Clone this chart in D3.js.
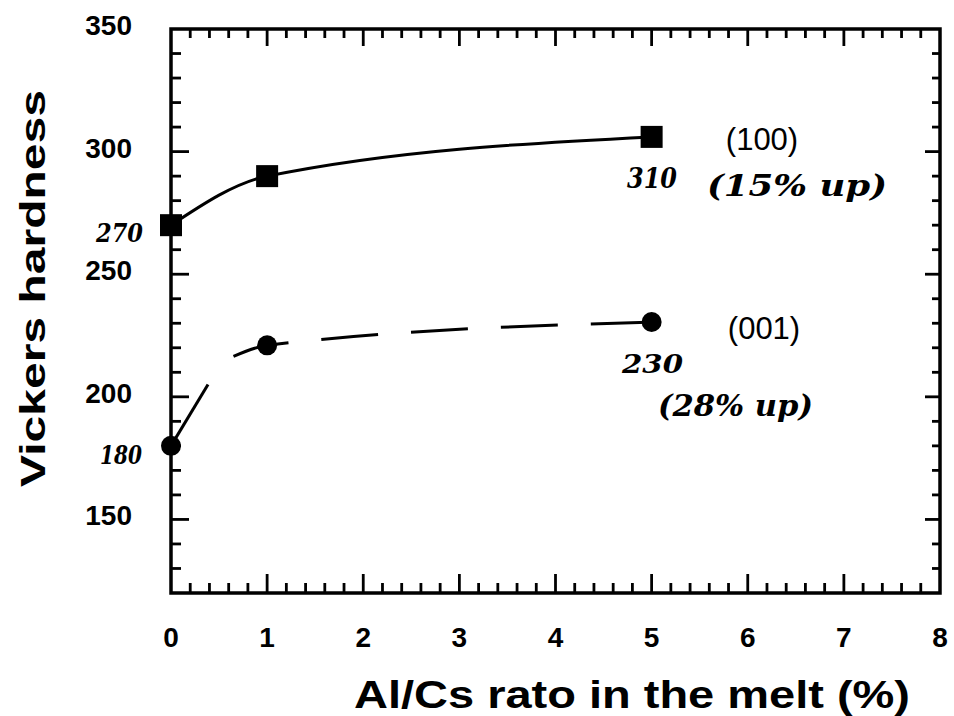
<!DOCTYPE html>
<html>
<head>
<meta charset="utf-8">
<script src="https://cdn.jsdelivr.net/npm/d3@7"></script>
<style>
  html, body { margin: 0; padding: 0; background: #fff; }
  svg { display: block; }
</style>
</head>
<body>
<svg id="chart" width="954" height="716"></svg>
<script>
// ---- data ----
const xTickLabels = [0, 1, 2, 3, 4, 5, 6, 7, 8];
const yTickLabels = [150, 200, 250, 300, 350];
const seriesNames = ["(100)", "(001)"];
const xValues = [0, 1, 5];
const hard100 = [270, 290, 306];
const hard001 = [180, 221, 230.5];
// hand-drawn trend of (001): dashed part starts slightly left of x=1
const trend001X = [0.65, 1, 5];
const trend001Y = [216.5, 221, 230.5];
// short solid hand stroke rising from the x=0 point
const stroke001X = [0, 0.385];
const stroke001Y = [180, 205];
// handwritten notes
const noteLeft = ["270", "180"];
const note100 = ["310", "(15% up)"];
const note001 = ["230", "(28% up)"];

// ---- layout ----
const svg = d3.select("#chart");
const L = 171, R = 940, T = 29, B = 593;
const x = d3.scaleLinear().domain([0, 8]).range([L, R]);
const y = d3.scaleLinear().domain([120, 350]).range([B, T]);

const ink = "#000";
const g = svg.append("g");

// frame
g.append("rect").attr("x", L).attr("y", T).attr("width", R - L).attr("height", B - T)
  .attr("fill", "none").attr("stroke", ink).attr("stroke-width", 3.5);

// ticks
const xMinor = d3.range(0, 8.0001, 0.2).map(v => +v.toFixed(1));
const yMinor = d3.range(120, 350.001, 10);
const isMajX = v => Math.abs(v - Math.round(v)) < 1e-6;
const isMajY = v => v % 50 === 0;

g.selectAll(".xb").data(xMinor.filter(v => v > 0 && v < 8)).enter().append("line")
  .attr("x1", d => x(d)).attr("x2", d => x(d))
  .attr("y1", B).attr("y2", d => B - (isMajX(d) ? 19 : 10))
  .attr("stroke", ink).attr("stroke-width", 2.8);
g.selectAll(".xt").data(xMinor.filter(v => v > 0 && v < 8)).enter().append("line")
  .attr("x1", d => x(d)).attr("x2", d => x(d))
  .attr("y1", T).attr("y2", d => T + (isMajX(d) ? 17 : 9))
  .attr("stroke", ink).attr("stroke-width", 2.8);
g.selectAll(".yl").data(yMinor.filter(v => v > 120 && v < 350)).enter().append("line")
  .attr("y1", d => y(d)).attr("y2", d => y(d))
  .attr("x1", L).attr("x2", d => L + (isMajY(d) ? 18 : 10))
  .attr("stroke", ink).attr("stroke-width", 2.8);
g.selectAll(".yr").data(yMinor.filter(v => v > 120 && v < 350)).enter().append("line")
  .attr("y1", d => y(d)).attr("y2", d => y(d))
  .attr("x1", R).attr("x2", d => R - (isMajY(d) ? 15 : 8))
  .attr("stroke", ink).attr("stroke-width", 2.8);

// tick labels
const tickFont = "'Liberation Sans', Arial, Helvetica, sans-serif";
g.selectAll(".xlab").data(xTickLabels).enter().append("text")
  .attr("x", d => x(d)).attr("y", 647)
  .attr("text-anchor", "middle")
  .attr("font-family", tickFont).attr("font-weight", "bold").attr("font-size", 28)
  .text(d => d);
g.selectAll(".ylab").data(yTickLabels).enter().append("text")
  .attr("x", 132).attr("y", d => y(d) + 6)
  .attr("text-anchor", "end")
  .attr("font-family", tickFont).attr("font-weight", "bold").attr("font-size", 28)
  .text(d => d);

// axis titles
g.append("text").attr("x", 354).attr("y", 708)
  .attr("font-family", tickFont).attr("font-weight", "900").attr("font-size", 39)
  .attr("textLength", 556).attr("lengthAdjust", "spacingAndGlyphs")
  .text("Al/Cs rato in the melt (%)");
g.append("text").attr("transform", "translate(45,487) rotate(-90)")
  .attr("font-family", tickFont).attr("font-weight", "900").attr("font-size", 35)
  .attr("textLength", 397).attr("lengthAdjust", "spacingAndGlyphs")
  .text("Vickers hardness");

// curves
const line = d3.line().x(d => x(d[0])).y(d => y(d[1])).curve(d3.curveMonotoneX);
g.append("path").datum(xValues.map((v, i) => [v, hard100[i]]))
  .attr("d", line).attr("fill", "none").attr("stroke", ink).attr("stroke-width", 3);
g.append("path").datum(trend001X.map((v, i) => [v, trend001Y[i]]))
  .attr("d", line).attr("fill", "none").attr("stroke", ink).attr("stroke-width", 3)
  .attr("stroke-dasharray", "57,33");
g.append("path").datum(stroke001X.map((v, i) => [v, stroke001Y[i]]))
  .attr("d", d3.line().x(d => x(d[0])).y(d => y(d[1])).curve(d3.curveBasis))
  .attr("fill", "none").attr("stroke", ink).attr("stroke-width", 3);

// markers
const s = 22;
g.selectAll(".sq").data(xValues.map((v, i) => [v, hard100[i]])).enter().append("rect")
  .attr("x", d => x(d[0]) - s / 2).attr("y", d => y(d[1]) - s / 2)
  .attr("width", s).attr("height", s).attr("fill", ink);
g.selectAll(".ci").data(xValues.map((v, i) => [v, hard001[i]])).enter().append("circle")
  .attr("cx", d => x(d[0])).attr("cy", d => y(d[1])).attr("r", 10).attr("fill", ink);

// series labels
g.append("text").attr("x", 762).attr("y", y(hard100[2]) + 13).attr("text-anchor", "middle")
  .attr("font-family", tickFont).attr("font-size", 31).text(seriesNames[0]);
g.append("text").attr("x", 764).attr("y", y(hard001[2]) + 17).attr("text-anchor", "middle")
  .attr("font-family", tickFont).attr("font-size", 31).text(seriesNames[1]);

// handwritten notes
const hand = "'DejaVu Serif', 'Liberation Serif', serif";
function note(txt, x0, base, size, len) {
  g.append("text").attr("x", x0).attr("y", base)
    .attr("font-family", hand).attr("font-style", "italic").attr("font-weight", "bold")
    .attr("font-size", size).attr("textLength", len).attr("lengthAdjust", "spacingAndGlyphs")
    .text(txt);
}
note(noteLeft[0], 96, 242, 26, 47);
note(noteLeft[1], 100, 464, 26, 42);
note(note100[0], 627, 188, 28, 50);
note(note100[1], 707, 196, 30, 180);
note(note001[0], 622, 373, 26, 61);
note(note001[1], 658, 416, 30, 155);
</script>
</body>
</html>
